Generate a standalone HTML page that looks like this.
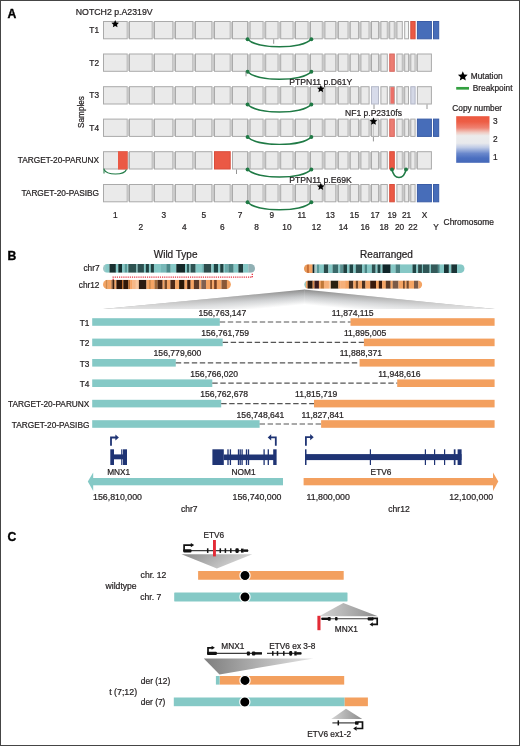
<!DOCTYPE html>
<html><head><meta charset="utf-8"><style>
html,body{margin:0;padding:0;background:#fff;}
body{width:520px;height:746px;overflow:hidden;position:relative;}
svg{display:block;will-change:transform;}
.frame{position:absolute;left:0;top:0;width:518px;height:744px;border:1px solid #454545;}
</style></head><body>
<svg width="520" height="746" viewBox="0 0 520 746" font-family="Liberation Sans, sans-serif">
<text x="7.5" y="18" font-size="12.2" text-anchor="start" font-weight="bold" fill="#000" stroke="#000" stroke-width="0.35" >A</text>
<rect x="103.5" y="21.5" width="23.7" height="17.3" fill="#eaeaea" stroke="#aaaaaa" stroke-width="1"/>
<rect x="127.5" y="21.8" width="1.7" height="16.7" fill="#c9c9c9"/>
<rect x="129.5" y="21.5" width="22.7" height="17.3" fill="#eaeaea" stroke="#aaaaaa" stroke-width="1"/>
<rect x="152.5" y="21.8" width="1.7" height="16.7" fill="#c9c9c9"/>
<rect x="154.5" y="21.5" width="18.4" height="17.3" fill="#eaeaea" stroke="#aaaaaa" stroke-width="1"/>
<rect x="173.2" y="21.8" width="2" height="16.7" fill="#c9c9c9"/>
<rect x="175.5" y="21.5" width="17.4" height="17.3" fill="#eaeaea" stroke="#aaaaaa" stroke-width="1"/>
<rect x="193.2" y="21.8" width="2" height="16.7" fill="#c9c9c9"/>
<rect x="195.5" y="21.5" width="16.4" height="17.3" fill="#eaeaea" stroke="#aaaaaa" stroke-width="1"/>
<rect x="212.2" y="21.8" width="2" height="16.7" fill="#c9c9c9"/>
<rect x="214.5" y="21.5" width="15.7" height="17.3" fill="#eaeaea" stroke="#aaaaaa" stroke-width="1"/>
<rect x="230.5" y="21.8" width="1.7" height="16.7" fill="#c9c9c9"/>
<rect x="232.5" y="21.5" width="15.0" height="17.3" fill="#eaeaea" stroke="#aaaaaa" stroke-width="1"/>
<rect x="247.8" y="21.8" width="2" height="16.7" fill="#c9c9c9"/>
<rect x="250.1" y="21.5" width="13" height="17.3" fill="#eaeaea" stroke="#aaaaaa" stroke-width="1"/>
<rect x="263.4" y="21.8" width="2" height="16.7" fill="#c9c9c9"/>
<rect x="265.7" y="21.5" width="12.4" height="17.3" fill="#eaeaea" stroke="#aaaaaa" stroke-width="1"/>
<rect x="278.4" y="21.8" width="2" height="16.7" fill="#c9c9c9"/>
<rect x="280.7" y="21.5" width="12.4" height="17.3" fill="#eaeaea" stroke="#aaaaaa" stroke-width="1"/>
<rect x="293.4" y="21.8" width="1.8" height="16.7" fill="#c9c9c9"/>
<rect x="295.5" y="21.5" width="12.6" height="17.3" fill="#eaeaea" stroke="#aaaaaa" stroke-width="1"/>
<rect x="308.4" y="21.8" width="1.8" height="16.7" fill="#c9c9c9"/>
<rect x="310.5" y="21.5" width="11.8" height="17.3" fill="#eaeaea" stroke="#aaaaaa" stroke-width="1"/>
<rect x="322.6" y="21.8" width="2" height="16.7" fill="#c9c9c9"/>
<rect x="324.9" y="21.5" width="10.9" height="17.3" fill="#eaeaea" stroke="#aaaaaa" stroke-width="1"/>
<rect x="336.1" y="21.8" width="2" height="16.7" fill="#c9c9c9"/>
<rect x="338.4" y="21.5" width="9.7" height="17.3" fill="#eaeaea" stroke="#aaaaaa" stroke-width="1"/>
<rect x="348.4" y="21.8" width="1.6" height="16.7" fill="#c9c9c9"/>
<rect x="350.3" y="21.5" width="8.2" height="17.3" fill="#eaeaea" stroke="#aaaaaa" stroke-width="1"/>
<rect x="358.8" y="21.8" width="1.8" height="16.7" fill="#c9c9c9"/>
<rect x="360.9" y="21.5" width="8.2" height="17.3" fill="#eaeaea" stroke="#aaaaaa" stroke-width="1"/>
<rect x="369.4" y="21.8" width="1.8" height="16.7" fill="#c9c9c9"/>
<rect x="371.5" y="21.5" width="7.0" height="17.3" fill="#eaeaea" stroke="#aaaaaa" stroke-width="1"/>
<rect x="378.8" y="21.8" width="1.8" height="16.7" fill="#c9c9c9"/>
<rect x="380.9" y="21.5" width="6.4" height="17.3" fill="#eaeaea" stroke="#aaaaaa" stroke-width="1"/>
<rect x="387.6" y="21.8" width="1.8" height="16.7" fill="#c9c9c9"/>
<rect x="389.7" y="21.5" width="4.6" height="17.3" fill="#eaeaea" stroke="#aaaaaa" stroke-width="1"/>
<rect x="394.6" y="21.8" width="2" height="16.7" fill="#c9c9c9"/>
<rect x="396.9" y="21.5" width="5.4" height="17.3" fill="#eaeaea" stroke="#aaaaaa" stroke-width="1"/>
<rect x="404.7" y="21.5" width="3.8" height="17.3" fill="#f4f6f6" stroke="#aaaaaa" stroke-width="1"/>
<rect x="410.8" y="21.5" width="4.3" height="17.3" fill="#eb5945" stroke="#d84e3c" stroke-width="1"/>
<rect x="417.4" y="21.5" width="14.0" height="17.3" fill="#476db9" stroke="#3a5ca6" stroke-width="1"/>
<rect x="433.5" y="21.5" width="5.2" height="17.3" fill="#476db9" stroke="#3a5ca6" stroke-width="1"/>
<text x="99" y="33.15" font-size="8.3" text-anchor="end" font-weight="normal" fill="#231f20" stroke="#231f20" stroke-width="0.22" >T1</text>
<rect x="103.5" y="54.0" width="23.7" height="17.3" fill="#eaeaea" stroke="#aaaaaa" stroke-width="1"/>
<rect x="127.5" y="54.3" width="1.7" height="16.7" fill="#c9c9c9"/>
<rect x="129.5" y="54.0" width="22.7" height="17.3" fill="#eaeaea" stroke="#aaaaaa" stroke-width="1"/>
<rect x="152.5" y="54.3" width="1.7" height="16.7" fill="#c9c9c9"/>
<rect x="154.5" y="54.0" width="18.4" height="17.3" fill="#eaeaea" stroke="#aaaaaa" stroke-width="1"/>
<rect x="173.2" y="54.3" width="2" height="16.7" fill="#c9c9c9"/>
<rect x="175.5" y="54.0" width="17.4" height="17.3" fill="#eaeaea" stroke="#aaaaaa" stroke-width="1"/>
<rect x="193.2" y="54.3" width="2" height="16.7" fill="#c9c9c9"/>
<rect x="195.5" y="54.0" width="16.4" height="17.3" fill="#eaeaea" stroke="#aaaaaa" stroke-width="1"/>
<rect x="212.2" y="54.3" width="2" height="16.7" fill="#c9c9c9"/>
<rect x="214.5" y="54.0" width="15.7" height="17.3" fill="#eaeaea" stroke="#aaaaaa" stroke-width="1"/>
<rect x="230.5" y="54.3" width="1.7" height="16.7" fill="#c9c9c9"/>
<rect x="232.5" y="54.0" width="15.0" height="17.3" fill="#eaeaea" stroke="#aaaaaa" stroke-width="1"/>
<rect x="247.8" y="54.3" width="2" height="16.7" fill="#c9c9c9"/>
<rect x="250.1" y="54.0" width="13" height="17.3" fill="#eaeaea" stroke="#aaaaaa" stroke-width="1"/>
<rect x="263.4" y="54.3" width="2" height="16.7" fill="#c9c9c9"/>
<rect x="265.7" y="54.0" width="12.4" height="17.3" fill="#eaeaea" stroke="#aaaaaa" stroke-width="1"/>
<rect x="278.4" y="54.3" width="2" height="16.7" fill="#c9c9c9"/>
<rect x="280.7" y="54.0" width="12.4" height="17.3" fill="#eaeaea" stroke="#aaaaaa" stroke-width="1"/>
<rect x="293.4" y="54.3" width="1.8" height="16.7" fill="#c9c9c9"/>
<rect x="295.5" y="54.0" width="12.6" height="17.3" fill="#eaeaea" stroke="#aaaaaa" stroke-width="1"/>
<rect x="308.4" y="54.3" width="1.8" height="16.7" fill="#c9c9c9"/>
<rect x="310.5" y="54.0" width="11.8" height="17.3" fill="#eaeaea" stroke="#aaaaaa" stroke-width="1"/>
<rect x="322.6" y="54.3" width="2" height="16.7" fill="#c9c9c9"/>
<rect x="324.9" y="54.0" width="10.9" height="17.3" fill="#eaeaea" stroke="#aaaaaa" stroke-width="1"/>
<rect x="336.1" y="54.3" width="2" height="16.7" fill="#c9c9c9"/>
<rect x="338.4" y="54.0" width="9.7" height="17.3" fill="#eaeaea" stroke="#aaaaaa" stroke-width="1"/>
<rect x="348.4" y="54.3" width="1.6" height="16.7" fill="#c9c9c9"/>
<rect x="350.3" y="54.0" width="8.2" height="17.3" fill="#eaeaea" stroke="#aaaaaa" stroke-width="1"/>
<rect x="358.8" y="54.3" width="1.8" height="16.7" fill="#c9c9c9"/>
<rect x="360.9" y="54.0" width="8.2" height="17.3" fill="#eaeaea" stroke="#aaaaaa" stroke-width="1"/>
<rect x="369.4" y="54.3" width="1.8" height="16.7" fill="#c9c9c9"/>
<rect x="371.5" y="54.0" width="7.0" height="17.3" fill="#eaeaea" stroke="#aaaaaa" stroke-width="1"/>
<rect x="378.8" y="54.3" width="1.8" height="16.7" fill="#c9c9c9"/>
<rect x="380.9" y="54.0" width="6.4" height="17.3" fill="#eaeaea" stroke="#aaaaaa" stroke-width="1"/>
<rect x="389.7" y="54.0" width="4.6" height="17.3" fill="#ec7c72" stroke="#d86a62" stroke-width="1"/>
<rect x="396.9" y="54.0" width="5.4" height="17.3" fill="#eaeaea" stroke="#aaaaaa" stroke-width="1"/>
<rect x="402.6" y="54.3" width="1.8" height="16.7" fill="#c9c9c9"/>
<rect x="404.7" y="54.0" width="3.8" height="17.3" fill="#eaeaea" stroke="#aaaaaa" stroke-width="1"/>
<rect x="408.8" y="54.3" width="1.7" height="16.7" fill="#c9c9c9"/>
<rect x="410.8" y="54.0" width="4.3" height="17.3" fill="#eaeaea" stroke="#aaaaaa" stroke-width="1"/>
<rect x="415.4" y="54.3" width="1.7" height="16.7" fill="#c9c9c9"/>
<rect x="417.4" y="54.0" width="14.0" height="17.3" fill="#eaeaea" stroke="#aaaaaa" stroke-width="1"/>
<text x="99" y="65.65" font-size="8.3" text-anchor="end" font-weight="normal" fill="#231f20" stroke="#231f20" stroke-width="0.22" >T2</text>
<rect x="103.5" y="86.7" width="23.7" height="17.3" fill="#eaeaea" stroke="#aaaaaa" stroke-width="1"/>
<rect x="127.5" y="87.0" width="1.7" height="16.7" fill="#c9c9c9"/>
<rect x="129.5" y="86.7" width="22.7" height="17.3" fill="#eaeaea" stroke="#aaaaaa" stroke-width="1"/>
<rect x="152.5" y="87.0" width="1.7" height="16.7" fill="#c9c9c9"/>
<rect x="154.5" y="86.7" width="18.4" height="17.3" fill="#eaeaea" stroke="#aaaaaa" stroke-width="1"/>
<rect x="173.2" y="87.0" width="2" height="16.7" fill="#c9c9c9"/>
<rect x="175.5" y="86.7" width="17.4" height="17.3" fill="#eaeaea" stroke="#aaaaaa" stroke-width="1"/>
<rect x="193.2" y="87.0" width="2" height="16.7" fill="#c9c9c9"/>
<rect x="195.5" y="86.7" width="16.4" height="17.3" fill="#eaeaea" stroke="#aaaaaa" stroke-width="1"/>
<rect x="212.2" y="87.0" width="2" height="16.7" fill="#c9c9c9"/>
<rect x="214.5" y="86.7" width="15.7" height="17.3" fill="#eaeaea" stroke="#aaaaaa" stroke-width="1"/>
<rect x="230.5" y="87.0" width="1.7" height="16.7" fill="#c9c9c9"/>
<rect x="232.5" y="86.7" width="15.0" height="17.3" fill="#eaeaea" stroke="#aaaaaa" stroke-width="1"/>
<rect x="247.8" y="87.0" width="2" height="16.7" fill="#c9c9c9"/>
<rect x="250.1" y="86.7" width="13" height="17.3" fill="#eaeaea" stroke="#aaaaaa" stroke-width="1"/>
<rect x="263.4" y="87.0" width="2" height="16.7" fill="#c9c9c9"/>
<rect x="265.7" y="86.7" width="12.4" height="17.3" fill="#eaeaea" stroke="#aaaaaa" stroke-width="1"/>
<rect x="278.4" y="87.0" width="2" height="16.7" fill="#c9c9c9"/>
<rect x="280.7" y="86.7" width="12.4" height="17.3" fill="#eaeaea" stroke="#aaaaaa" stroke-width="1"/>
<rect x="293.4" y="87.0" width="1.8" height="16.7" fill="#c9c9c9"/>
<rect x="295.5" y="86.7" width="12.6" height="17.3" fill="#eaeaea" stroke="#aaaaaa" stroke-width="1"/>
<rect x="308.4" y="87.0" width="1.8" height="16.7" fill="#c9c9c9"/>
<rect x="310.5" y="86.7" width="11.8" height="17.3" fill="#eaeaea" stroke="#aaaaaa" stroke-width="1"/>
<rect x="322.6" y="87.0" width="2" height="16.7" fill="#c9c9c9"/>
<rect x="324.9" y="86.7" width="10.9" height="17.3" fill="#eaeaea" stroke="#aaaaaa" stroke-width="1"/>
<rect x="336.1" y="87.0" width="2" height="16.7" fill="#c9c9c9"/>
<rect x="338.4" y="86.7" width="9.7" height="17.3" fill="#eaeaea" stroke="#aaaaaa" stroke-width="1"/>
<rect x="348.4" y="87.0" width="1.6" height="16.7" fill="#c9c9c9"/>
<rect x="350.3" y="86.7" width="8.2" height="17.3" fill="#eaeaea" stroke="#aaaaaa" stroke-width="1"/>
<rect x="358.8" y="87.0" width="1.8" height="16.7" fill="#c9c9c9"/>
<rect x="360.9" y="86.7" width="8.2" height="17.3" fill="#eaeaea" stroke="#aaaaaa" stroke-width="1"/>
<rect x="371.5" y="86.7" width="7.0" height="17.3" fill="#d7dbea" stroke="#b4b8c8" stroke-width="1"/>
<rect x="380.9" y="86.7" width="6.4" height="17.3" fill="#eaeaea" stroke="#aaaaaa" stroke-width="1"/>
<rect x="389.7" y="86.7" width="4.6" height="17.3" fill="#f2a6a0" stroke="#aaaaaa" stroke-width="1"/>
<rect x="396.9" y="86.7" width="5.4" height="17.3" fill="#eaeaea" stroke="#aaaaaa" stroke-width="1"/>
<rect x="402.6" y="87.0" width="1.8" height="16.7" fill="#c9c9c9"/>
<rect x="404.7" y="86.7" width="3.8" height="17.3" fill="#eaeaea" stroke="#aaaaaa" stroke-width="1"/>
<rect x="410.8" y="86.7" width="4.3" height="17.3" fill="#d4d8e6" stroke="#b2b6c6" stroke-width="1"/>
<rect x="417.4" y="86.7" width="14.0" height="17.3" fill="#eaeaea" stroke="#aaaaaa" stroke-width="1"/>
<text x="99" y="98.35" font-size="8.3" text-anchor="end" font-weight="normal" fill="#231f20" stroke="#231f20" stroke-width="0.22" >T3</text>
<rect x="103.5" y="119.1" width="23.7" height="17.3" fill="#eaeaea" stroke="#aaaaaa" stroke-width="1"/>
<rect x="127.5" y="119.4" width="1.7" height="16.7" fill="#c9c9c9"/>
<rect x="129.5" y="119.1" width="22.7" height="17.3" fill="#eaeaea" stroke="#aaaaaa" stroke-width="1"/>
<rect x="152.5" y="119.4" width="1.7" height="16.7" fill="#c9c9c9"/>
<rect x="154.5" y="119.1" width="18.4" height="17.3" fill="#eaeaea" stroke="#aaaaaa" stroke-width="1"/>
<rect x="173.2" y="119.4" width="2" height="16.7" fill="#c9c9c9"/>
<rect x="175.5" y="119.1" width="17.4" height="17.3" fill="#eaeaea" stroke="#aaaaaa" stroke-width="1"/>
<rect x="193.2" y="119.4" width="2" height="16.7" fill="#c9c9c9"/>
<rect x="195.5" y="119.1" width="16.4" height="17.3" fill="#eaeaea" stroke="#aaaaaa" stroke-width="1"/>
<rect x="212.2" y="119.4" width="2" height="16.7" fill="#c9c9c9"/>
<rect x="214.5" y="119.1" width="15.7" height="17.3" fill="#eaeaea" stroke="#aaaaaa" stroke-width="1"/>
<rect x="230.5" y="119.4" width="1.7" height="16.7" fill="#c9c9c9"/>
<rect x="232.5" y="119.1" width="15.0" height="17.3" fill="#eaeaea" stroke="#aaaaaa" stroke-width="1"/>
<rect x="247.8" y="119.4" width="2" height="16.7" fill="#c9c9c9"/>
<rect x="250.1" y="119.1" width="13" height="17.3" fill="#eaeaea" stroke="#aaaaaa" stroke-width="1"/>
<rect x="263.4" y="119.4" width="2" height="16.7" fill="#c9c9c9"/>
<rect x="265.7" y="119.1" width="12.4" height="17.3" fill="#eaeaea" stroke="#aaaaaa" stroke-width="1"/>
<rect x="278.4" y="119.4" width="2" height="16.7" fill="#c9c9c9"/>
<rect x="280.7" y="119.1" width="12.4" height="17.3" fill="#eaeaea" stroke="#aaaaaa" stroke-width="1"/>
<rect x="293.4" y="119.4" width="1.8" height="16.7" fill="#c9c9c9"/>
<rect x="295.5" y="119.1" width="12.6" height="17.3" fill="#eaeaea" stroke="#aaaaaa" stroke-width="1"/>
<rect x="308.4" y="119.4" width="1.8" height="16.7" fill="#c9c9c9"/>
<rect x="310.5" y="119.1" width="11.8" height="17.3" fill="#eaeaea" stroke="#aaaaaa" stroke-width="1"/>
<rect x="322.6" y="119.4" width="2" height="16.7" fill="#c9c9c9"/>
<rect x="324.9" y="119.1" width="10.9" height="17.3" fill="#eaeaea" stroke="#aaaaaa" stroke-width="1"/>
<rect x="336.1" y="119.4" width="2" height="16.7" fill="#c9c9c9"/>
<rect x="338.4" y="119.1" width="9.7" height="17.3" fill="#eaeaea" stroke="#aaaaaa" stroke-width="1"/>
<rect x="348.4" y="119.4" width="1.6" height="16.7" fill="#c9c9c9"/>
<rect x="350.3" y="119.1" width="8.2" height="17.3" fill="#eaeaea" stroke="#aaaaaa" stroke-width="1"/>
<rect x="358.8" y="119.4" width="1.8" height="16.7" fill="#c9c9c9"/>
<rect x="360.9" y="119.1" width="8.2" height="17.3" fill="#eaeaea" stroke="#aaaaaa" stroke-width="1"/>
<rect x="369.4" y="119.4" width="1.8" height="16.7" fill="#c9c9c9"/>
<rect x="371.5" y="119.1" width="7.0" height="17.3" fill="#eaeaea" stroke="#aaaaaa" stroke-width="1"/>
<rect x="378.8" y="119.4" width="1.8" height="16.7" fill="#c9c9c9"/>
<rect x="380.9" y="119.1" width="6.4" height="17.3" fill="#eaeaea" stroke="#aaaaaa" stroke-width="1"/>
<rect x="389.7" y="119.1" width="4.6" height="17.3" fill="#ec7c72" stroke="#d86a62" stroke-width="1"/>
<rect x="396.9" y="119.1" width="5.4" height="17.3" fill="#eaeaea" stroke="#aaaaaa" stroke-width="1"/>
<rect x="402.6" y="119.4" width="1.8" height="16.7" fill="#c9c9c9"/>
<rect x="404.7" y="119.1" width="3.8" height="17.3" fill="#eaeaea" stroke="#aaaaaa" stroke-width="1"/>
<rect x="408.8" y="119.4" width="1.7" height="16.7" fill="#c9c9c9"/>
<rect x="410.8" y="119.1" width="4.3" height="17.3" fill="#eaeaea" stroke="#aaaaaa" stroke-width="1"/>
<rect x="417.4" y="119.1" width="14.0" height="17.3" fill="#476db9" stroke="#3a5ca6" stroke-width="1"/>
<rect x="433.5" y="119.1" width="5.2" height="17.3" fill="#476db9" stroke="#3a5ca6" stroke-width="1"/>
<text x="99" y="130.75" font-size="8.3" text-anchor="end" font-weight="normal" fill="#231f20" stroke="#231f20" stroke-width="0.22" >T4</text>
<rect x="103.5" y="151.7" width="23.7" height="17.3" fill="#eaeaea" stroke="#aaaaaa" stroke-width="1"/>
<rect x="127.5" y="152.0" width="1.7" height="16.7" fill="#c9c9c9"/>
<rect x="129.5" y="151.7" width="22.7" height="17.3" fill="#eaeaea" stroke="#aaaaaa" stroke-width="1"/>
<rect x="152.5" y="152.0" width="1.7" height="16.7" fill="#c9c9c9"/>
<rect x="154.5" y="151.7" width="18.4" height="17.3" fill="#eaeaea" stroke="#aaaaaa" stroke-width="1"/>
<rect x="173.2" y="152.0" width="2" height="16.7" fill="#c9c9c9"/>
<rect x="175.5" y="151.7" width="17.4" height="17.3" fill="#eaeaea" stroke="#aaaaaa" stroke-width="1"/>
<rect x="193.2" y="152.0" width="2" height="16.7" fill="#c9c9c9"/>
<rect x="195.5" y="151.7" width="16.4" height="17.3" fill="#eaeaea" stroke="#aaaaaa" stroke-width="1"/>
<rect x="214.5" y="151.7" width="15.7" height="17.3" fill="#eb5945" stroke="#d84e3c" stroke-width="1"/>
<rect x="232.5" y="151.7" width="15.0" height="17.3" fill="#eaeaea" stroke="#aaaaaa" stroke-width="1"/>
<rect x="247.8" y="152.0" width="2" height="16.7" fill="#c9c9c9"/>
<rect x="250.1" y="151.7" width="13" height="17.3" fill="#eaeaea" stroke="#aaaaaa" stroke-width="1"/>
<rect x="263.4" y="152.0" width="2" height="16.7" fill="#c9c9c9"/>
<rect x="265.7" y="151.7" width="12.4" height="17.3" fill="#eaeaea" stroke="#aaaaaa" stroke-width="1"/>
<rect x="278.4" y="152.0" width="2" height="16.7" fill="#c9c9c9"/>
<rect x="280.7" y="151.7" width="12.4" height="17.3" fill="#eaeaea" stroke="#aaaaaa" stroke-width="1"/>
<rect x="293.4" y="152.0" width="1.8" height="16.7" fill="#c9c9c9"/>
<rect x="295.5" y="151.7" width="12.6" height="17.3" fill="#eaeaea" stroke="#aaaaaa" stroke-width="1"/>
<rect x="308.4" y="152.0" width="1.8" height="16.7" fill="#c9c9c9"/>
<rect x="310.5" y="151.7" width="11.8" height="17.3" fill="#eaeaea" stroke="#aaaaaa" stroke-width="1"/>
<rect x="322.6" y="152.0" width="2" height="16.7" fill="#c9c9c9"/>
<rect x="324.9" y="151.7" width="10.9" height="17.3" fill="#eaeaea" stroke="#aaaaaa" stroke-width="1"/>
<rect x="336.1" y="152.0" width="2" height="16.7" fill="#c9c9c9"/>
<rect x="338.4" y="151.7" width="9.7" height="17.3" fill="#eaeaea" stroke="#aaaaaa" stroke-width="1"/>
<rect x="348.4" y="152.0" width="1.6" height="16.7" fill="#c9c9c9"/>
<rect x="350.3" y="151.7" width="8.2" height="17.3" fill="#eaeaea" stroke="#aaaaaa" stroke-width="1"/>
<rect x="358.8" y="152.0" width="1.8" height="16.7" fill="#c9c9c9"/>
<rect x="360.9" y="151.7" width="8.2" height="17.3" fill="#eaeaea" stroke="#aaaaaa" stroke-width="1"/>
<rect x="369.4" y="152.0" width="1.8" height="16.7" fill="#c9c9c9"/>
<rect x="371.5" y="151.7" width="7.0" height="17.3" fill="#eaeaea" stroke="#aaaaaa" stroke-width="1"/>
<rect x="378.8" y="152.0" width="1.8" height="16.7" fill="#c9c9c9"/>
<rect x="380.9" y="151.7" width="6.4" height="17.3" fill="#eaeaea" stroke="#aaaaaa" stroke-width="1"/>
<rect x="389.7" y="151.7" width="4.6" height="17.3" fill="#eb5945" stroke="#d84e3c" stroke-width="1"/>
<rect x="396.9" y="151.7" width="5.4" height="17.3" fill="#eaeaea" stroke="#aaaaaa" stroke-width="1"/>
<rect x="402.6" y="152.0" width="1.8" height="16.7" fill="#c9c9c9"/>
<rect x="404.7" y="151.7" width="3.8" height="17.3" fill="#eaeaea" stroke="#aaaaaa" stroke-width="1"/>
<rect x="408.8" y="152.0" width="1.7" height="16.7" fill="#c9c9c9"/>
<rect x="410.8" y="151.7" width="4.3" height="17.3" fill="#eaeaea" stroke="#aaaaaa" stroke-width="1"/>
<rect x="415.4" y="152.0" width="1.7" height="16.7" fill="#c9c9c9"/>
<rect x="417.4" y="151.7" width="14.0" height="17.3" fill="#eaeaea" stroke="#aaaaaa" stroke-width="1"/>
<text x="99" y="163.35" font-size="8.3" text-anchor="end" font-weight="normal" fill="#231f20" stroke="#231f20" stroke-width="0.22" >TARGET-20-PARUNX</text>
<rect x="103.5" y="184.5" width="23.7" height="17.3" fill="#eaeaea" stroke="#aaaaaa" stroke-width="1"/>
<rect x="127.5" y="184.8" width="1.7" height="16.7" fill="#c9c9c9"/>
<rect x="129.5" y="184.5" width="22.7" height="17.3" fill="#eaeaea" stroke="#aaaaaa" stroke-width="1"/>
<rect x="152.5" y="184.8" width="1.7" height="16.7" fill="#c9c9c9"/>
<rect x="154.5" y="184.5" width="18.4" height="17.3" fill="#eaeaea" stroke="#aaaaaa" stroke-width="1"/>
<rect x="173.2" y="184.8" width="2" height="16.7" fill="#c9c9c9"/>
<rect x="175.5" y="184.5" width="17.4" height="17.3" fill="#eaeaea" stroke="#aaaaaa" stroke-width="1"/>
<rect x="193.2" y="184.8" width="2" height="16.7" fill="#c9c9c9"/>
<rect x="195.5" y="184.5" width="16.4" height="17.3" fill="#eaeaea" stroke="#aaaaaa" stroke-width="1"/>
<rect x="212.2" y="184.8" width="2" height="16.7" fill="#c9c9c9"/>
<rect x="214.5" y="184.5" width="15.7" height="17.3" fill="#eaeaea" stroke="#aaaaaa" stroke-width="1"/>
<rect x="230.5" y="184.8" width="1.7" height="16.7" fill="#c9c9c9"/>
<rect x="232.5" y="184.5" width="15.0" height="17.3" fill="#eaeaea" stroke="#aaaaaa" stroke-width="1"/>
<rect x="247.8" y="184.8" width="2" height="16.7" fill="#c9c9c9"/>
<rect x="250.1" y="184.5" width="13" height="17.3" fill="#eaeaea" stroke="#aaaaaa" stroke-width="1"/>
<rect x="263.4" y="184.8" width="2" height="16.7" fill="#c9c9c9"/>
<rect x="265.7" y="184.5" width="12.4" height="17.3" fill="#eaeaea" stroke="#aaaaaa" stroke-width="1"/>
<rect x="278.4" y="184.8" width="2" height="16.7" fill="#c9c9c9"/>
<rect x="280.7" y="184.5" width="12.4" height="17.3" fill="#eaeaea" stroke="#aaaaaa" stroke-width="1"/>
<rect x="293.4" y="184.8" width="1.8" height="16.7" fill="#c9c9c9"/>
<rect x="295.5" y="184.5" width="12.6" height="17.3" fill="#eaeaea" stroke="#aaaaaa" stroke-width="1"/>
<rect x="308.4" y="184.8" width="1.8" height="16.7" fill="#c9c9c9"/>
<rect x="310.5" y="184.5" width="11.8" height="17.3" fill="#eaeaea" stroke="#aaaaaa" stroke-width="1"/>
<rect x="322.6" y="184.8" width="2" height="16.7" fill="#c9c9c9"/>
<rect x="324.9" y="184.5" width="10.9" height="17.3" fill="#eaeaea" stroke="#aaaaaa" stroke-width="1"/>
<rect x="336.1" y="184.8" width="2" height="16.7" fill="#c9c9c9"/>
<rect x="338.4" y="184.5" width="9.7" height="17.3" fill="#eaeaea" stroke="#aaaaaa" stroke-width="1"/>
<rect x="348.4" y="184.8" width="1.6" height="16.7" fill="#c9c9c9"/>
<rect x="350.3" y="184.5" width="8.2" height="17.3" fill="#eaeaea" stroke="#aaaaaa" stroke-width="1"/>
<rect x="358.8" y="184.8" width="1.8" height="16.7" fill="#c9c9c9"/>
<rect x="360.9" y="184.5" width="8.2" height="17.3" fill="#eaeaea" stroke="#aaaaaa" stroke-width="1"/>
<rect x="369.4" y="184.8" width="1.8" height="16.7" fill="#c9c9c9"/>
<rect x="371.5" y="184.5" width="7.0" height="17.3" fill="#eaeaea" stroke="#aaaaaa" stroke-width="1"/>
<rect x="378.8" y="184.8" width="1.8" height="16.7" fill="#c9c9c9"/>
<rect x="380.9" y="184.5" width="6.4" height="17.3" fill="#eaeaea" stroke="#aaaaaa" stroke-width="1"/>
<rect x="389.7" y="184.5" width="4.6" height="17.3" fill="#eb5945" stroke="#d84e3c" stroke-width="1"/>
<rect x="396.9" y="184.5" width="5.4" height="17.3" fill="#eaeaea" stroke="#aaaaaa" stroke-width="1"/>
<rect x="402.6" y="184.8" width="1.8" height="16.7" fill="#c9c9c9"/>
<rect x="404.7" y="184.5" width="3.8" height="17.3" fill="#eaeaea" stroke="#aaaaaa" stroke-width="1"/>
<rect x="408.8" y="184.8" width="1.7" height="16.7" fill="#c9c9c9"/>
<rect x="410.8" y="184.5" width="4.3" height="17.3" fill="#eaeaea" stroke="#aaaaaa" stroke-width="1"/>
<rect x="417.4" y="184.5" width="14.0" height="17.3" fill="#476db9" stroke="#3a5ca6" stroke-width="1"/>
<rect x="433.5" y="184.5" width="5.2" height="17.3" fill="#476db9" stroke="#3a5ca6" stroke-width="1"/>
<text x="99" y="196.15" font-size="8.3" text-anchor="end" font-weight="normal" fill="#231f20" stroke="#231f20" stroke-width="0.22" >TARGET-20-PASIBG</text>
<rect x="390.8" y="87.2" width="3.5" height="16.3" fill="#eb7068"/>
<line x1="373.4" y1="122.6" x2="373.4" y2="136.9" stroke="#bbb" stroke-width="0.8"/>
<rect x="118" y="151.2" width="9.7" height="18.3" fill="#eb5945"/>
<path d="M247.6,39.3 C257.15,49.27 301.75,49.27 311.3,39.3" fill="none" stroke="#1f7a45" stroke-width="1.45"/>
<circle cx="247.6" cy="39.3" r="2.0" fill="#1f7a45"/>
<circle cx="311.3" cy="39.3" r="2.0" fill="#1f7a45"/>
<path d="M247.6,71.8 C257.15,81.78 301.75,81.78 311.3,71.8" fill="none" stroke="#1f7a45" stroke-width="1.45"/>
<circle cx="247.6" cy="71.8" r="2.0" fill="#1f7a45"/>
<circle cx="311.3" cy="71.8" r="2.0" fill="#1f7a45"/>
<path d="M247.6,104.5 C257.15,114.47 301.75,114.47 311.3,104.5" fill="none" stroke="#1f7a45" stroke-width="1.45"/>
<circle cx="247.6" cy="104.5" r="2.0" fill="#1f7a45"/>
<circle cx="311.3" cy="104.5" r="2.0" fill="#1f7a45"/>
<path d="M247.6,136.9 C257.15,146.88 301.75,146.88 311.3,136.9" fill="none" stroke="#1f7a45" stroke-width="1.45"/>
<circle cx="247.6" cy="136.9" r="2.0" fill="#1f7a45"/>
<circle cx="311.3" cy="136.9" r="2.0" fill="#1f7a45"/>
<path d="M247.6,169.5 C257.15,179.47 301.75,179.47 311.3,169.5" fill="none" stroke="#1f7a45" stroke-width="1.45"/>
<circle cx="247.6" cy="169.5" r="2.0" fill="#1f7a45"/>
<circle cx="311.3" cy="169.5" r="2.0" fill="#1f7a45"/>
<path d="M247.6,202.3 C257.15,212.28 301.75,212.28 311.3,202.3" fill="none" stroke="#1f7a45" stroke-width="1.45"/>
<circle cx="247.6" cy="202.3" r="2.0" fill="#1f7a45"/>
<circle cx="311.3" cy="202.3" r="2.0" fill="#1f7a45"/>
<path d="M392,169.5 C394.1,180.14 403.9,180.14 406,169.5" fill="none" stroke="#1f7a45" stroke-width="1.45"/>
<circle cx="392" cy="169.5" r="2.0" fill="#1f7a45"/>
<circle cx="406" cy="169.5" r="2.0" fill="#1f7a45"/>
<path d="M104,169.5 C107,175.5 124,175.5 126.5,169.5" fill="none" stroke="#1f7a45" stroke-width="1.1"/>
<line x1="104" y1="168.5" x2="104" y2="173.5" stroke="#1f7a45" stroke-width="1"/>
<line x1="273.7" y1="39.3" x2="273.7" y2="43.8" stroke="#888" stroke-width="0.9"/>
<line x1="246" y1="71.8" x2="246" y2="76.3" stroke="#888" stroke-width="0.9"/>
<line x1="374" y1="104.5" x2="374" y2="109.0" stroke="#888" stroke-width="0.9"/>
<line x1="427" y1="104.5" x2="427" y2="109.0" stroke="#888" stroke-width="0.9"/>
<line x1="373.4" y1="136.9" x2="373.4" y2="141.4" stroke="#888" stroke-width="0.9"/>
<line x1="236.5" y1="169.5" x2="236.5" y2="174.0" stroke="#888" stroke-width="0.9"/>
<text x="75.8" y="14.9" font-size="8.75" text-anchor="start" font-weight="normal" fill="#231f20" stroke="#231f20" stroke-width="0.22" >NOTCH2 p.A2319V</text>
<polygon points="115.20,20.10 116.31,22.58 119.00,22.86 116.99,24.68 117.55,27.34 115.20,25.98 112.85,27.34 113.41,24.68 111.40,22.86 114.09,22.58" fill="#000"/>
<text x="289.2" y="84.5" font-size="8.65" text-anchor="start" font-weight="normal" fill="#231f20" stroke="#231f20" stroke-width="0.22" >PTPN11 p.D61Y</text>
<polygon points="320.80,84.90 321.91,87.38 324.60,87.66 322.59,89.48 323.15,92.14 320.80,90.78 318.45,92.14 319.01,89.48 317.00,87.66 319.69,87.38" fill="#000"/>
<text x="345" y="116.4" font-size="8.55" text-anchor="start" font-weight="normal" fill="#231f20" stroke="#231f20" stroke-width="0.22" >NF1 p.P2310fs</text>
<polygon points="373.50,117.40 374.63,119.94 377.40,120.23 375.33,122.10 375.91,124.82 373.50,123.43 371.09,124.82 371.67,122.10 369.60,120.23 372.37,119.94" fill="#000"/>
<text x="289.2" y="182.9" font-size="8.65" text-anchor="start" font-weight="normal" fill="#231f20" stroke="#231f20" stroke-width="0.22" >PTPN11 p.E69K</text>
<polygon points="320.80,182.70 321.91,185.18 324.60,185.46 322.59,187.28 323.15,189.94 320.80,188.58 318.45,189.94 319.01,187.28 317.00,185.46 319.69,185.18" fill="#000"/>
<text x="0" y="0" font-size="8.2" fill="#231f20" stroke="#231f20" stroke-width="0.22" text-anchor="middle" transform="translate(83.8,112) rotate(-90)">Samples</text>
<text x="115.35" y="218.4" font-size="8.3" text-anchor="middle" font-weight="normal" fill="#231f20" stroke="#231f20" stroke-width="0.22" >1</text>
<text x="140.85" y="229.6" font-size="8.3" text-anchor="middle" font-weight="normal" fill="#231f20" stroke="#231f20" stroke-width="0.22" >2</text>
<text x="163.7" y="218.4" font-size="8.3" text-anchor="middle" font-weight="normal" fill="#231f20" stroke="#231f20" stroke-width="0.22" >3</text>
<text x="184.2" y="229.6" font-size="8.3" text-anchor="middle" font-weight="normal" fill="#231f20" stroke="#231f20" stroke-width="0.22" >4</text>
<text x="203.7" y="218.4" font-size="8.3" text-anchor="middle" font-weight="normal" fill="#231f20" stroke="#231f20" stroke-width="0.22" >5</text>
<text x="222.35" y="229.6" font-size="8.3" text-anchor="middle" font-weight="normal" fill="#231f20" stroke="#231f20" stroke-width="0.22" >6</text>
<text x="240.0" y="218.4" font-size="8.3" text-anchor="middle" font-weight="normal" fill="#231f20" stroke="#231f20" stroke-width="0.22" >7</text>
<text x="256.6" y="229.6" font-size="8.3" text-anchor="middle" font-weight="normal" fill="#231f20" stroke="#231f20" stroke-width="0.22" >8</text>
<text x="271.9" y="218.4" font-size="8.3" text-anchor="middle" font-weight="normal" fill="#231f20" stroke="#231f20" stroke-width="0.22" >9</text>
<text x="286.9" y="229.6" font-size="8.3" text-anchor="middle" font-weight="normal" fill="#231f20" stroke="#231f20" stroke-width="0.22" >10</text>
<text x="301.8" y="218.4" font-size="8.3" text-anchor="middle" font-weight="normal" fill="#231f20" stroke="#231f20" stroke-width="0.22" >11</text>
<text x="316.4" y="229.6" font-size="8.3" text-anchor="middle" font-weight="normal" fill="#231f20" stroke="#231f20" stroke-width="0.22" >12</text>
<text x="330.35" y="218.4" font-size="8.3" text-anchor="middle" font-weight="normal" fill="#231f20" stroke="#231f20" stroke-width="0.22" >13</text>
<text x="343.25" y="229.6" font-size="8.3" text-anchor="middle" font-weight="normal" fill="#231f20" stroke="#231f20" stroke-width="0.22" >14</text>
<text x="354.4" y="218.4" font-size="8.3" text-anchor="middle" font-weight="normal" fill="#231f20" stroke="#231f20" stroke-width="0.22" >15</text>
<text x="365.0" y="229.6" font-size="8.3" text-anchor="middle" font-weight="normal" fill="#231f20" stroke="#231f20" stroke-width="0.22" >16</text>
<text x="375.0" y="218.4" font-size="8.3" text-anchor="middle" font-weight="normal" fill="#231f20" stroke="#231f20" stroke-width="0.22" >17</text>
<text x="384.1" y="229.6" font-size="8.3" text-anchor="middle" font-weight="normal" fill="#231f20" stroke="#231f20" stroke-width="0.22" >18</text>
<text x="392.0" y="218.4" font-size="8.3" text-anchor="middle" font-weight="normal" fill="#231f20" stroke="#231f20" stroke-width="0.22" >19</text>
<text x="399.6" y="229.6" font-size="8.3" text-anchor="middle" font-weight="normal" fill="#231f20" stroke="#231f20" stroke-width="0.22" >20</text>
<text x="406.6" y="218.4" font-size="8.3" text-anchor="middle" font-weight="normal" fill="#231f20" stroke="#231f20" stroke-width="0.22" >21</text>
<text x="412.95" y="229.6" font-size="8.3" text-anchor="middle" font-weight="normal" fill="#231f20" stroke="#231f20" stroke-width="0.22" >22</text>
<text x="424.4" y="218.4" font-size="8.3" text-anchor="middle" font-weight="normal" fill="#231f20" stroke="#231f20" stroke-width="0.22" >X</text>
<text x="436.1" y="229.6" font-size="8.3" text-anchor="middle" font-weight="normal" fill="#231f20" stroke="#231f20" stroke-width="0.22" >Y</text>
<text x="443.6" y="225.4" font-size="8.4" text-anchor="start" font-weight="normal" fill="#231f20" stroke="#231f20" stroke-width="0.22" >Chromosome</text>
<polygon points="462.80,71.30 464.21,74.46 467.65,74.82 465.08,77.14 465.80,80.53 462.80,78.80 459.80,80.53 460.52,77.14 457.95,74.82 461.39,74.46" fill="#000"/>
<text x="470.8" y="78.6" font-size="8.3" text-anchor="start" font-weight="normal" fill="#231f20" stroke="#231f20" stroke-width="0.22" >Mutation</text>
<line x1="456.2" y1="88.3" x2="469" y2="88.3" stroke="#33a040" stroke-width="2.7"/>
<text x="472.8" y="90.9" font-size="8.3" text-anchor="start" font-weight="normal" fill="#231f20" stroke="#231f20" stroke-width="0.22" >Breakpoint</text>
<text x="452.3" y="110.9" font-size="8.3" text-anchor="start" font-weight="normal" fill="#231f20" stroke="#231f20" stroke-width="0.22" >Copy number</text>
<defs><linearGradient id="cn" x1="0" y1="0" x2="0" y2="1"><stop offset="0" stop-color="#ec5840"/><stop offset="0.12" stop-color="#ed5d45"/><stop offset="0.25" stop-color="#ef8272"/><stop offset="0.35" stop-color="#f0cbc2"/><stop offset="0.42" stop-color="#ececec"/><stop offset="0.58" stop-color="#e8e9ec"/><stop offset="0.67" stop-color="#bfcbe6"/><stop offset="0.8" stop-color="#6a88cc"/><stop offset="0.9" stop-color="#4b6fc0"/><stop offset="1" stop-color="#4568b8"/></linearGradient></defs>
<rect x="456.2" y="116.2" width="33.3" height="46.6" fill="url(#cn)"/>
<text x="493" y="123.8" font-size="8.3" text-anchor="start" font-weight="normal" fill="#231f20" stroke="#231f20" stroke-width="0.22" >3</text>
<text x="493" y="142.2" font-size="8.3" text-anchor="start" font-weight="normal" fill="#231f20" stroke="#231f20" stroke-width="0.22" >2</text>
<text x="493" y="160" font-size="8.3" text-anchor="start" font-weight="normal" fill="#231f20" stroke="#231f20" stroke-width="0.22" >1</text>
<text x="7.5" y="260" font-size="12.2" text-anchor="start" font-weight="bold" fill="#000" stroke="#000" stroke-width="0.35" >B</text>
<text x="175.6" y="257.7" font-size="10" text-anchor="middle" font-weight="normal" fill="#231f20" stroke="#231f20" stroke-width="0.22" >Wild Type</text>
<text x="386.5" y="258" font-size="10" text-anchor="middle" font-weight="normal" fill="#231f20" stroke="#231f20" stroke-width="0.22" >Rearranged</text>
<text x="99.6" y="271" font-size="8.3" text-anchor="end" font-weight="normal" fill="#231f20" stroke="#231f20" stroke-width="0.22" >chr7</text>
<text x="99.5" y="288" font-size="8.3" text-anchor="end" font-weight="normal" fill="#231f20" stroke="#231f20" stroke-width="0.22" >chr12</text>
<defs><linearGradient id="wgl" gradientUnits="userSpaceOnUse" x1="0" y1="289.5" x2="0" y2="304.5" gradientTransform="translate(304.5,0) skewY(-5.53) translate(-304.5,0)"><stop offset="0" stop-color="#8c8c8c"/><stop offset="0.45" stop-color="#c6c8ca"/><stop offset="1" stop-color="#ffffff"/></linearGradient><linearGradient id="wgr" gradientUnits="userSpaceOnUse" x1="0" y1="289.5" x2="0" y2="304.5" gradientTransform="translate(304.5,0) skewY(5.84) translate(-304.5,0)"><stop offset="0" stop-color="#8c8c8c"/><stop offset="0.45" stop-color="#c6c8ca"/><stop offset="1" stop-color="#ffffff"/></linearGradient><linearGradient id="wfl" gradientUnits="userSpaceOnUse" x1="103" y1="0" x2="304.5" y2="0"><stop offset="0" stop-color="#fff" stop-opacity="0.8"/><stop offset="1" stop-color="#fff" stop-opacity="0"/></linearGradient><linearGradient id="wfr" gradientUnits="userSpaceOnUse" x1="304.5" y1="0" x2="495" y2="0"><stop offset="0" stop-color="#fff" stop-opacity="0"/><stop offset="1" stop-color="#fff" stop-opacity="0.8"/></linearGradient></defs>
<polygon points="304.5,289.5 103,309.0 304.8,309.0" fill="url(#wgl)"/>
<polygon points="304.2,289.5 304.2,309.0 495,309.0" fill="url(#wgr)"/>
<polygon points="304.5,289.5 103,309.0 304.8,309.0" fill="url(#wfl)"/>
<polygon points="304.2,289.5 304.2,309.0 495,309.0" fill="url(#wfr)"/>
<clipPath id="ic1"><rect x="103" y="264" width="152" height="8.8" rx="4.4" ry="4.4"/></clipPath>
<g clip-path="url(#ic1)">
<rect x="103" y="264" width="2.25" height="8.8" fill="#a0c8c8"/>
<rect x="105.1" y="264" width="4.55" height="8.8" fill="#86c8c6"/>
<rect x="109.5" y="264" width="6.45" height="8.8" fill="#1a3030"/>
<rect x="115.8" y="264" width="2.65" height="8.8" fill="#86c8c6"/>
<rect x="118.3" y="264" width="3.85" height="8.8" fill="#143030"/>
<rect x="122" y="264" width="2.65" height="8.8" fill="#86c8c6"/>
<rect x="124.5" y="264" width="2.65" height="8.8" fill="#5a9a98"/>
<rect x="127" y="264" width="1.45" height="8.8" fill="#86c8c6"/>
<rect x="128.3" y="264" width="8.25" height="8.8" fill="#2d5250"/>
<rect x="136.4" y="264" width="1.35" height="8.8" fill="#86c8c6"/>
<rect x="137.6" y="264" width="6.45" height="8.8" fill="#2d5050"/>
<rect x="143.9" y="264" width="2.05" height="8.8" fill="#86c8c6"/>
<rect x="145.8" y="264" width="3.25" height="8.8" fill="#1f4040"/>
<rect x="148.9" y="264" width="2.05" height="8.8" fill="#86c8c6"/>
<rect x="150.8" y="264" width="3.25" height="8.8" fill="#1f4040"/>
<rect x="153.9" y="264" width="7.05" height="8.8" fill="#86c8c6"/>
<rect x="160.8" y="264" width="5.65" height="8.8" fill="#78b8b8"/>
<rect x="166.3" y="264" width="4.45" height="8.8" fill="#4a8888"/>
<rect x="170.6" y="264" width="5.85" height="8.8" fill="#86c8c6"/>
<rect x="176.3" y="264" width="8.85" height="8.8" fill="#142828"/>
<rect x="185" y="264" width="2.05" height="8.8" fill="#86c8c6"/>
<rect x="186.9" y="264" width="2.65" height="8.8" fill="#2d5a58"/>
<rect x="189.4" y="264" width="1.35" height="8.8" fill="#86c8c6"/>
<rect x="190.6" y="264" width="5.15" height="8.8" fill="#2d5252"/>
<rect x="195.6" y="264" width="6.45" height="8.8" fill="#86c8c6"/>
<rect x="201.9" y="264" width="2.05" height="8.8" fill="#78b8b8"/>
<rect x="203.8" y="264" width="7.65" height="8.8" fill="#2d4c4c"/>
<rect x="211.3" y="264" width="2.65" height="8.8" fill="#86c8c6"/>
<rect x="213.8" y="264" width="4.35" height="8.8" fill="#1f4545"/>
<rect x="218" y="264" width="2.35" height="8.8" fill="#86c8c6"/>
<rect x="220.2" y="264" width="3.55" height="8.8" fill="#1f4040"/>
<rect x="223.6" y="264" width="1.55" height="8.8" fill="#86c8c6"/>
<rect x="225" y="264" width="3.55" height="8.8" fill="#6aa8a8"/>
<rect x="228.4" y="264" width="5.35" height="8.8" fill="#4a8080"/>
<rect x="233.6" y="264" width="4.95" height="8.8" fill="#86c8c6"/>
<rect x="238.4" y="264" width="4.85" height="8.8" fill="#1f3c3c"/>
<rect x="243.1" y="264" width="5.35" height="8.8" fill="#86c8c6"/>
<rect x="248.3" y="264" width="6.85" height="8.8" fill="#90b0b4"/>
</g>
<clipPath id="ic2"><rect x="103" y="279.8" width="127.9" height="9.4" rx="4.7" ry="4.7"/></clipPath>
<g clip-path="url(#ic2)">
<rect x="103" y="279.8" width="2.95" height="9.4" fill="#f4a464"/>
<rect x="105.8" y="279.8" width="1.95" height="9.4" fill="#d08848"/>
<rect x="107.6" y="279.8" width="3.95" height="9.4" fill="#f4a464"/>
<rect x="111.4" y="279.8" width="1.35" height="9.4" fill="#a06030"/>
<rect x="112.6" y="279.8" width="2.05" height="9.4" fill="#3a2010"/>
<rect x="114.5" y="279.8" width="2.05" height="9.4" fill="#f4a464"/>
<rect x="116.4" y="279.8" width="5.75" height="9.4" fill="#2a1408"/>
<rect x="122" y="279.8" width="1.45" height="9.4" fill="#c07030"/>
<rect x="123.3" y="279.8" width="5.15" height="9.4" fill="#301808"/>
<rect x="128.3" y="279.8" width="1.95" height="9.4" fill="#c07030"/>
<rect x="130.1" y="279.8" width="2.65" height="9.4" fill="#f4a464"/>
<rect x="132.6" y="279.8" width="3.35" height="9.4" fill="#f6b888"/>
<rect x="135.8" y="279.8" width="3.25" height="9.4" fill="#f8c8a0"/>
<rect x="138.9" y="279.8" width="7.65" height="9.4" fill="#2a1a10"/>
<rect x="146.4" y="279.8" width="2.65" height="9.4" fill="#f4a464"/>
<rect x="148.9" y="279.8" width="2.05" height="9.4" fill="#d08848"/>
<rect x="150.8" y="279.8" width="3.85" height="9.4" fill="#f4a464"/>
<rect x="154.5" y="279.8" width="3.25" height="9.4" fill="#a06838"/>
<rect x="157.6" y="279.8" width="5.15" height="9.4" fill="#4a2a18"/>
<rect x="162.6" y="279.8" width="2.05" height="9.4" fill="#f4a464"/>
<rect x="164.5" y="279.8" width="2.65" height="9.4" fill="#7a4a28"/>
<rect x="167" y="279.8" width="3.55" height="9.4" fill="#f4a464"/>
<rect x="170.4" y="279.8" width="4.85" height="9.4" fill="#4a2818"/>
<rect x="175.1" y="279.8" width="4.15" height="9.4" fill="#f4a464"/>
<rect x="179.1" y="279.8" width="5.55" height="9.4" fill="#2a1808"/>
<rect x="184.5" y="279.8" width="2.85" height="9.4" fill="#f4a464"/>
<rect x="187.2" y="279.8" width="3.55" height="9.4" fill="#3a1a08"/>
<rect x="190.6" y="279.8" width="3.45" height="9.4" fill="#f4a464"/>
<rect x="193.9" y="279.8" width="5.55" height="9.4" fill="#5a3a28"/>
<rect x="199.3" y="279.8" width="2.15" height="9.4" fill="#f4a464"/>
<rect x="201.3" y="279.8" width="4.85" height="9.4" fill="#806050"/>
<rect x="206" y="279.8" width="4.25" height="9.4" fill="#f4a464"/>
<rect x="210.1" y="279.8" width="2.15" height="9.4" fill="#8a5028"/>
<rect x="212.1" y="279.8" width="2.15" height="9.4" fill="#f4a464"/>
<rect x="214.1" y="279.8" width="2.85" height="9.4" fill="#7a4020"/>
<rect x="216.8" y="279.8" width="4.85" height="9.4" fill="#f4a464"/>
<rect x="221.5" y="279.8" width="5.55" height="9.4" fill="#8a5838"/>
<rect x="226.9" y="279.8" width="4.15" height="9.4" fill="#f4a464"/>
</g>
<clipPath id="ic3"><rect x="303.9" y="264.2" width="160.7" height="8.8" rx="4.4" ry="4.4"/></clipPath>
<g clip-path="url(#ic3)">
<rect x="303.9" y="264.2" width="3.25" height="8.8" fill="#e89858"/>
<rect x="307" y="264.2" width="2.05" height="8.8" fill="#c87038"/>
<rect x="308.9" y="264.2" width="3.85" height="8.8" fill="#f4a464"/>
<rect x="312.6" y="264.2" width="2.05" height="8.8" fill="#10262a"/>
<rect x="314.5" y="264.2" width="2.65" height="8.8" fill="#a8c8c8"/>
<rect x="317" y="264.2" width="2.65" height="8.8" fill="#5a9a9a"/>
<rect x="319.5" y="264.2" width="4.55" height="8.8" fill="#86c8c6"/>
<rect x="323.9" y="264.2" width="4.55" height="8.8" fill="#2a4a4a"/>
<rect x="328.3" y="264.2" width="4.45" height="8.8" fill="#86c8c6"/>
<rect x="332.6" y="264.2" width="5.85" height="8.8" fill="#3a6a6a"/>
<rect x="338.3" y="264.2" width="1.95" height="8.8" fill="#86c8c6"/>
<rect x="340.1" y="264.2" width="3.35" height="8.8" fill="#5a9090"/>
<rect x="343.3" y="264.2" width="3.85" height="8.8" fill="#1f4040"/>
<rect x="347" y="264.2" width="2.65" height="8.8" fill="#86c8c6"/>
<rect x="349.5" y="264.2" width="3.95" height="8.8" fill="#1f4545"/>
<rect x="353.3" y="264.2" width="2.65" height="8.8" fill="#86c8c6"/>
<rect x="355.8" y="264.2" width="6.35" height="8.8" fill="#2d5050"/>
<rect x="362" y="264.2" width="2.65" height="8.8" fill="#86c8c6"/>
<rect x="364.5" y="264.2" width="2.65" height="8.8" fill="#4a8686"/>
<rect x="367" y="264.2" width="5.05" height="8.8" fill="#86c8c6"/>
<rect x="371.9" y="264.2" width="3.85" height="8.8" fill="#2e5252"/>
<rect x="375.6" y="264.2" width="2.05" height="8.8" fill="#86c8c6"/>
<rect x="377.5" y="264.2" width="3.25" height="8.8" fill="#1f4545"/>
<rect x="380.6" y="264.2" width="2.05" height="8.8" fill="#86c8c6"/>
<rect x="382.5" y="264.2" width="8.25" height="8.8" fill="#10262a"/>
<rect x="390.6" y="264.2" width="5.15" height="8.8" fill="#86c8c6"/>
<rect x="395.6" y="264.2" width="4.55" height="8.8" fill="#4a8080"/>
<rect x="400" y="264.2" width="12.65" height="8.8" fill="#86c8c6"/>
<rect x="412.5" y="264.2" width="3.95" height="8.8" fill="#1f4545"/>
<rect x="416.3" y="264.2" width="1.95" height="8.8" fill="#86c8c6"/>
<rect x="418.1" y="264.2" width="3.95" height="8.8" fill="#2a4a4a"/>
<rect x="421.9" y="264.2" width="1.15" height="8.8" fill="#86c8c6"/>
<rect x="422.9" y="264.2" width="6.85" height="8.8" fill="#2e5656"/>
<rect x="429.6" y="264.2" width="1.55" height="8.8" fill="#86c8c6"/>
<rect x="431" y="264.2" width="6.95" height="8.8" fill="#345a5a"/>
<rect x="437.8" y="264.2" width="2.05" height="8.8" fill="#4a8686"/>
<rect x="439.7" y="264.2" width="4.45" height="8.8" fill="#86c8c6"/>
<rect x="444" y="264.2" width="4.95" height="8.8" fill="#1a3436"/>
<rect x="448.8" y="264.2" width="2.65" height="8.8" fill="#86c8c6"/>
<rect x="451.3" y="264.2" width="5.85" height="8.8" fill="#1a3436"/>
<rect x="457" y="264.2" width="7.75" height="8.8" fill="#86c8c6"/>
</g>
<clipPath id="ic4"><rect x="304.2" y="280.4" width="118.0" height="8.4" rx="4.2" ry="4.2"/></clipPath>
<g clip-path="url(#ic4)">
<rect x="304.2" y="280.4" width="1.75" height="8.4" fill="#86c8c6"/>
<rect x="305.8" y="280.4" width="1.95" height="8.4" fill="#f4a464"/>
<rect x="307.6" y="280.4" width="5.15" height="8.4" fill="#2a1a10"/>
<rect x="312.6" y="280.4" width="2.05" height="8.4" fill="#d8884c"/>
<rect x="314.5" y="280.4" width="4.55" height="8.4" fill="#3a1a1c"/>
<rect x="318.9" y="280.4" width="2.05" height="8.4" fill="#f4a464"/>
<rect x="320.8" y="280.4" width="3.25" height="8.4" fill="#c07838"/>
<rect x="323.9" y="280.4" width="5.15" height="8.4" fill="#f6b07a"/>
<rect x="328.9" y="280.4" width="2.05" height="8.4" fill="#f8c8a0"/>
<rect x="330.8" y="280.4" width="7.65" height="8.4" fill="#2a2010"/>
<rect x="338.3" y="280.4" width="1.95" height="8.4" fill="#f4a464"/>
<rect x="340.1" y="280.4" width="5.15" height="8.4" fill="#f6b07a"/>
<rect x="345.1" y="280.4" width="3.95" height="8.4" fill="#f4a464"/>
<rect x="348.9" y="280.4" width="4.55" height="8.4" fill="#4a3020"/>
<rect x="353.3" y="280.4" width="2.65" height="8.4" fill="#f4a464"/>
<rect x="355.8" y="280.4" width="2.65" height="8.4" fill="#7a4a28"/>
<rect x="358.3" y="280.4" width="3.85" height="8.4" fill="#f4a464"/>
<rect x="362" y="280.4" width="3.55" height="8.4" fill="#4a3020"/>
<rect x="365.4" y="280.4" width="4.95" height="8.4" fill="#f4a464"/>
<rect x="370.2" y="280.4" width="5.95" height="8.4" fill="#3a1a0c"/>
<rect x="376" y="280.4" width="2.95" height="8.4" fill="#f4a464"/>
<rect x="378.8" y="280.4" width="3.45" height="8.4" fill="#3a1a0c"/>
<rect x="382.1" y="280.4" width="3.85" height="8.4" fill="#f4a464"/>
<rect x="385.8" y="280.4" width="4.95" height="8.4" fill="#5a3a28"/>
<rect x="390.6" y="280.4" width="2.25" height="8.4" fill="#f4a464"/>
<rect x="392.7" y="280.4" width="5.85" height="8.4" fill="#7a5a48"/>
<rect x="398.4" y="280.4" width="4.75" height="8.4" fill="#f4a464"/>
<rect x="403" y="280.4" width="1.95" height="8.4" fill="#7a4a28"/>
<rect x="404.8" y="280.4" width="1.85" height="8.4" fill="#f4a464"/>
<rect x="406.5" y="280.4" width="2.45" height="8.4" fill="#7a4a28"/>
<rect x="408.8" y="280.4" width="5.35" height="8.4" fill="#f4a464"/>
<rect x="414" y="280.4" width="4.45" height="8.4" fill="#7a5a48"/>
<rect x="418.3" y="280.4" width="4.05" height="8.4" fill="#f4a464"/>
</g>
<path d="M113.2,280 L113.2,277.2 L252.3,277.2 L252.3,273.6" fill="none" stroke="#e4303f" stroke-width="1.3" stroke-dasharray="1.2,0.95"/>
<rect x="92.2" y="318.2" width="127.6" height="7.6" fill="#85c9c6"/>
<rect x="350.5" y="318.2" width="144.1" height="7.6" fill="#f3a05f"/>
<line x1="219.8" y1="322.0" x2="350.5" y2="322.0" stroke="#555" stroke-width="1.2" stroke-dasharray="5.4,2.6"/>
<text x="89.4" y="325.8" font-size="8.3" text-anchor="end" font-weight="normal" fill="#231f20" stroke="#231f20" stroke-width="0.22" >T1</text>
<text x="222.3" y="315.6" font-size="8.6" text-anchor="middle" font-weight="normal" fill="#231f20" stroke="#231f20" stroke-width="0.22" >156,763,147</text>
<text x="352.7" y="315.6" font-size="8.6" text-anchor="middle" font-weight="normal" fill="#231f20" stroke="#231f20" stroke-width="0.22" >11,874,115</text>
<rect x="92.2" y="338.6" width="130.5" height="7.6" fill="#85c9c6"/>
<rect x="363.9" y="338.6" width="130.7" height="7.6" fill="#f3a05f"/>
<line x1="222.7" y1="342.4" x2="363.9" y2="342.4" stroke="#555" stroke-width="1.2" stroke-dasharray="5.4,2.6"/>
<text x="89.4" y="346.2" font-size="8.3" text-anchor="end" font-weight="normal" fill="#231f20" stroke="#231f20" stroke-width="0.22" >T2</text>
<text x="225.2" y="336.0" font-size="8.6" text-anchor="middle" font-weight="normal" fill="#231f20" stroke="#231f20" stroke-width="0.22" >156,761,759</text>
<text x="365.1" y="336.0" font-size="8.6" text-anchor="middle" font-weight="normal" fill="#231f20" stroke="#231f20" stroke-width="0.22" >11,895,005</text>
<rect x="92.2" y="359.0" width="83.6" height="7.6" fill="#85c9c6"/>
<rect x="359.6" y="359.0" width="135.0" height="7.6" fill="#f3a05f"/>
<line x1="175.8" y1="362.8" x2="359.6" y2="362.8" stroke="#555" stroke-width="1.2" stroke-dasharray="5.4,2.6"/>
<text x="89.4" y="366.6" font-size="8.3" text-anchor="end" font-weight="normal" fill="#231f20" stroke="#231f20" stroke-width="0.22" >T3</text>
<text x="177.5" y="356.4" font-size="8.6" text-anchor="middle" font-weight="normal" fill="#231f20" stroke="#231f20" stroke-width="0.22" >156,779,600</text>
<text x="360.9" y="356.4" font-size="8.6" text-anchor="middle" font-weight="normal" fill="#231f20" stroke="#231f20" stroke-width="0.22" >11,888,371</text>
<rect x="92.2" y="379.4" width="120.1" height="7.6" fill="#85c9c6"/>
<rect x="397.2" y="379.4" width="97.4" height="7.6" fill="#f3a05f"/>
<line x1="212.3" y1="383.2" x2="397.2" y2="383.2" stroke="#555" stroke-width="1.2" stroke-dasharray="5.4,2.6"/>
<text x="89.4" y="387.0" font-size="8.3" text-anchor="end" font-weight="normal" fill="#231f20" stroke="#231f20" stroke-width="0.22" >T4</text>
<text x="214.2" y="376.8" font-size="8.6" text-anchor="middle" font-weight="normal" fill="#231f20" stroke="#231f20" stroke-width="0.22" >156,766,020</text>
<text x="399.4" y="376.8" font-size="8.6" text-anchor="middle" font-weight="normal" fill="#231f20" stroke="#231f20" stroke-width="0.22" >11,948,616</text>
<rect x="92.2" y="399.8" width="129.0" height="7.6" fill="#85c9c6"/>
<rect x="314.0" y="399.8" width="180.6" height="7.6" fill="#f3a05f"/>
<line x1="221.2" y1="403.6" x2="314.0" y2="403.6" stroke="#555" stroke-width="1.2" stroke-dasharray="5.4,2.6"/>
<text x="89.4" y="407.4" font-size="8.3" text-anchor="end" font-weight="normal" fill="#231f20" stroke="#231f20" stroke-width="0.22" >TARGET-20-PARUNX</text>
<text x="224.1" y="397.2" font-size="8.6" text-anchor="middle" font-weight="normal" fill="#231f20" stroke="#231f20" stroke-width="0.22" >156,762,678</text>
<text x="316.2" y="397.2" font-size="8.6" text-anchor="middle" font-weight="normal" fill="#231f20" stroke="#231f20" stroke-width="0.22" >11,815,719</text>
<rect x="92.2" y="420.2" width="167.4" height="7.6" fill="#85c9c6"/>
<rect x="321.1" y="420.2" width="173.5" height="7.6" fill="#f3a05f"/>
<line x1="259.6" y1="424.0" x2="321.1" y2="424.0" stroke="#555" stroke-width="1.2" stroke-dasharray="5.4,2.6"/>
<text x="89.4" y="427.8" font-size="8.3" text-anchor="end" font-weight="normal" fill="#231f20" stroke="#231f20" stroke-width="0.22" >TARGET-20-PASIBG</text>
<text x="260.5" y="417.6" font-size="8.6" text-anchor="middle" font-weight="normal" fill="#231f20" stroke="#231f20" stroke-width="0.22" >156,748,641</text>
<text x="322.7" y="417.6" font-size="8.6" text-anchor="middle" font-weight="normal" fill="#231f20" stroke="#231f20" stroke-width="0.22" >11,827,841</text>
<rect x="110.3" y="449.3" width="3.7" height="15.7" fill="#1f3474"/>
<rect x="121.2" y="449.3" width="1.2" height="15.7" fill="#1f3474"/>
<rect x="123.0" y="449.3" width="4.0" height="15.7" fill="#1f3474"/>
<rect x="114" y="454.4" width="9" height="4.9" fill="#1f3474"/>
<path d="M111.0,445.8 L111.0,437.5 L116.6,437.5" fill="none" stroke="#1f3474" stroke-width="1.8"/>
<polygon points="118.9,437.5 115.4,434.4 115.4,440.6" fill="#1f3474"/>
<text x="118.7" y="474.6" font-size="8.3" text-anchor="middle" font-weight="normal" fill="#231f20" stroke="#231f20" stroke-width="0.22" >MNX1</text>
<rect x="212.4" y="449.3" width="11.4" height="15.7" fill="#1f3474"/>
<rect x="223.8" y="454.5" width="52" height="5.6" fill="#1f3474"/>
<rect x="227.35" y="449.3" width="1.3" height="15.7" fill="#1f3474"/>
<rect x="229.75" y="449.3" width="1.3" height="15.7" fill="#1f3474"/>
<rect x="237.85" y="449.3" width="1.3" height="15.7" fill="#1f3474"/>
<rect x="239.55" y="449.3" width="1.3" height="15.7" fill="#1f3474"/>
<rect x="241.45" y="449.3" width="1.3" height="15.7" fill="#1f3474"/>
<rect x="245.85" y="449.3" width="1.3" height="15.7" fill="#1f3474"/>
<rect x="247.85" y="449.3" width="1.3" height="15.7" fill="#1f3474"/>
<rect x="263.45" y="449.3" width="1.3" height="15.7" fill="#1f3474"/>
<rect x="267.65" y="449.3" width="1.3" height="15.7" fill="#1f3474"/>
<rect x="273.2" y="449.3" width="3.4" height="15.7" fill="#1f3474"/>
<path d="M275.8,445.8 L275.8,437.4 L270.0,437.4" fill="none" stroke="#1f3474" stroke-width="1.8"/>
<polygon points="267.7,437.4 271.2,434.3 271.2,440.5" fill="#1f3474"/>
<text x="243.6" y="474.6" font-size="8.3" text-anchor="middle" font-weight="normal" fill="#231f20" stroke="#231f20" stroke-width="0.22" >NOM1</text>
<rect x="305.2" y="454.1" width="156.3" height="6.0" fill="#1f3474"/>
<rect x="305.0" y="449.3" width="1.5" height="15.7" fill="#1f3474"/>
<rect x="369.8" y="449.3" width="1.2" height="15.7" fill="#1f3474"/>
<rect x="424.8" y="449.3" width="1.2" height="15.7" fill="#1f3474"/>
<rect x="434.0" y="449.3" width="1.2" height="15.7" fill="#1f3474"/>
<rect x="444.0" y="449.3" width="1.2" height="15.7" fill="#1f3474"/>
<rect x="453.8" y="449.3" width="1.7" height="15.7" fill="#1f3474"/>
<rect x="457.6" y="449.3" width="4.0" height="15.7" fill="#1f3474"/>
<path d="M305.9,445.8 L305.9,437.2 L311.4,437.2" fill="none" stroke="#1f3474" stroke-width="1.8"/>
<polygon points="313.7,437.2 310.2,434.1 310.2,440.3" fill="#1f3474"/>
<text x="381" y="474.6" font-size="8.3" text-anchor="middle" font-weight="normal" fill="#231f20" stroke="#231f20" stroke-width="0.22" >ETV6</text>
<rect x="92.5" y="478" width="190.5" height="7.3" fill="#85c9c6"/>
<polygon points="87.8,481.6 93.2,472.4 93.2,490.9" fill="#85c9c6"/>
<rect x="303.6" y="478" width="190" height="7.3" fill="#f3a05f"/>
<polygon points="498.3,481.6 493,472.4 493,490.9" fill="#f3a05f"/>
<text x="117.5" y="500.3" font-size="8.8" text-anchor="middle" font-weight="normal" fill="#231f20" stroke="#231f20" stroke-width="0.22" >156,810,000</text>
<text x="257" y="500.3" font-size="8.8" text-anchor="middle" font-weight="normal" fill="#231f20" stroke="#231f20" stroke-width="0.22" >156,740,000</text>
<text x="328.2" y="500.3" font-size="8.8" text-anchor="middle" font-weight="normal" fill="#231f20" stroke="#231f20" stroke-width="0.22" >11,800,000</text>
<text x="471.2" y="500.3" font-size="8.8" text-anchor="middle" font-weight="normal" fill="#231f20" stroke="#231f20" stroke-width="0.22" >12,100,000</text>
<text x="189.3" y="511.5" font-size="8.5" text-anchor="middle" font-weight="normal" fill="#231f20" stroke="#231f20" stroke-width="0.22" >chr7</text>
<text x="399" y="511.5" font-size="8.6" text-anchor="middle" font-weight="normal" fill="#231f20" stroke="#231f20" stroke-width="0.22" >chr12</text>
<text x="7.5" y="541.2" font-size="12.2" text-anchor="start" font-weight="bold" fill="#000" stroke="#000" stroke-width="0.35" >C</text>
<defs><linearGradient id="cw1" x1="0" y1="0" x2="1" y2="0.3"><stop offset="0" stop-color="#8a8a8a"/><stop offset="1" stop-color="#d8d8d8"/></linearGradient><linearGradient id="cw2" x1="0" y1="0" x2="1" y2="0"><stop offset="0" stop-color="#7e7e7e"/><stop offset="1" stop-color="#e4e4e4"/></linearGradient><linearGradient id="cw3" x1="0" y1="0" x2="1" y2="0"><stop offset="0" stop-color="#d4d4d4"/><stop offset="1" stop-color="#8c8c8c"/></linearGradient></defs>
<polygon points="181.5,554.2 252.3,554.2 216.9,568.4" fill="url(#cw1)"/>
<text x="213.8" y="538.2" font-size="8.3" text-anchor="middle" font-weight="normal" fill="#231f20" stroke="#231f20" stroke-width="0.22" >ETV6</text>
<line x1="190" y1="550.6" x2="248.4" y2="550.6" stroke="#3c3c3c" stroke-width="1.1"/>
<path d="M184.1,551.5 L184.1,545.1 L191.4,545.1" fill="none" stroke="#111" stroke-width="1.7"/>
<polygon points="194.2,545.1 190.8,542.9 190.8,547.3" fill="#111"/>
<rect x="183.3" y="549.2" width="8.2" height="3.3" rx="1" fill="#111"/>
<rect x="206.95" y="548.3" width="1.5" height="4.6" fill="#111"/>
<rect x="219.55" y="548.3" width="1.5" height="4.6" fill="#111"/>
<rect x="224.65" y="548.3" width="1.5" height="4.6" fill="#111"/>
<rect x="230.05" y="548.3" width="1.5" height="4.6" fill="#111"/>
<rect x="235.4" y="548.3" width="3.4" height="4.6" rx="1.1" fill="#111"/>
<rect x="241.0" y="548.6" width="2.6" height="4.0" fill="#111"/>
<rect x="243.4" y="549.4" width="4.6" height="2.4" fill="#111"/>
<rect x="213.0" y="540.0" width="2.9" height="16.4" fill="#e32b36"/>
<rect x="198.1" y="571.1" width="145.6" height="8.7" rx="0.4" fill="#f3a05f"/>
<rect x="174.2" y="592.6" width="173.3" height="8.8" rx="0.4" fill="#85c9c6"/>
<circle cx="245" cy="575.5" r="5.1" fill="#000" stroke="#fff" stroke-width="1.2"/>
<circle cx="245" cy="597" r="5.1" fill="#000" stroke="#fff" stroke-width="1.2"/>
<text x="166.4" y="578.3" font-size="8.6" text-anchor="end" font-weight="normal" fill="#231f20" stroke="#231f20" stroke-width="0.22" >chr. 12</text>
<text x="161.3" y="599.6" font-size="8.6" text-anchor="end" font-weight="normal" fill="#231f20" stroke="#231f20" stroke-width="0.22" >chr. 7</text>
<text x="105.6" y="589.2" font-size="8.6" text-anchor="start" font-weight="normal" fill="#231f20" stroke="#231f20" stroke-width="0.22" >wildtype</text>
<polygon points="343.3,603 319.2,616.2 377.9,616.2" fill="url(#cw3)"/>
<line x1="321" y1="618.8" x2="368" y2="618.8" stroke="#3c3c3c" stroke-width="1.1"/>
<rect x="321.6" y="617.6" width="6.6" height="2.4" fill="#111"/>
<rect x="327.8" y="616.9" width="2.9" height="3.8" rx="0.8" fill="#111"/>
<rect x="335.0" y="617.1" width="2.6" height="3.4" rx="0.8" fill="#111"/>
<rect x="367.6" y="617.3" width="6" height="3.1" rx="0.8" fill="#111"/>
<path d="M372,618.3 L377.2,618.3 L377.2,624.4 L372.2,624.4" fill="none" stroke="#111" stroke-width="1.7"/>
<polygon points="369.5,624.4 372.8,622.2 372.8,626.6" fill="#111"/>
<rect x="317.4" y="615.8" width="3.1" height="14.4" fill="#e32b36"/>
<text x="346.3" y="632.2" font-size="8.3" text-anchor="middle" font-weight="normal" fill="#231f20" stroke="#231f20" stroke-width="0.22" >MNX1</text>
<text x="232.8" y="648.8" font-size="8.3" text-anchor="middle" font-weight="normal" fill="#231f20" stroke="#231f20" stroke-width="0.22" >MNX1</text>
<text x="292.3" y="648.8" font-size="8.3" text-anchor="middle" font-weight="normal" fill="#231f20" stroke="#231f20" stroke-width="0.22" >ETV6 ex 3-8</text>
<polygon points="203.8,658.4 313.5,658.4 219.5,674.5" fill="url(#cw2)"/>
<line x1="216" y1="653.4" x2="262" y2="653.4" stroke="#3c3c3c" stroke-width="1.1"/>
<line x1="267" y1="653.4" x2="301.5" y2="653.4" stroke="#3c3c3c" stroke-width="1.1"/>
<path d="M208,654.4 L208,647.8 L212.2,647.8" fill="none" stroke="#111" stroke-width="1.7"/>
<polygon points="214.9,647.8 211.6,645.8 211.6,649.8" fill="#111"/>
<rect x="207.1" y="651.8" width="9.8" height="3.3" rx="1" fill="#111"/>
<rect x="246.9" y="651.4" width="3.0" height="4.2" rx="0.8" fill="#111"/>
<rect x="251.9" y="651.4" width="3.4" height="4.2" rx="1.1" fill="#111"/>
<rect x="255" y="652.2" width="6.9" height="2.4" fill="#111"/>
<rect x="272.05" y="651.1" width="1.5" height="4.6" fill="#111"/>
<rect x="276.75" y="651.1" width="1.5" height="4.6" fill="#111"/>
<rect x="283.05" y="651.1" width="1.5" height="4.6" fill="#111"/>
<rect x="289.2" y="651.1" width="3.0" height="4.6" rx="1.1" fill="#111"/>
<rect x="294.3" y="651.3" width="2.4" height="4.2" fill="#111"/>
<rect x="296.5" y="652.2" width="4.8" height="2.4" fill="#111"/>
<rect x="219.6" y="676" width="124.6" height="8.6" fill="#f3a05f"/>
<rect x="215.9" y="676" width="3.7" height="8.6" fill="#85c9c6"/>
<circle cx="245" cy="680.4" r="5.1" fill="#000" stroke="#fff" stroke-width="1.2"/>
<rect x="173.8" y="697.5" width="170.9" height="8.7" fill="#85c9c6"/>
<rect x="344.7" y="697.5" width="23.2" height="8.7" fill="#f3a05f"/>
<circle cx="244.8" cy="702" r="5.1" fill="#000" stroke="#fff" stroke-width="1.2"/>
<text x="170.2" y="684.3" font-size="8.4" text-anchor="end" font-weight="normal" fill="#231f20" stroke="#231f20" stroke-width="0.22" >der (12)</text>
<text x="109.2" y="694.8" font-size="8.8" text-anchor="start" font-weight="normal" fill="#231f20" stroke="#231f20" stroke-width="0.22" >t (7;12)</text>
<text x="165.4" y="705.2" font-size="8.4" text-anchor="end" font-weight="normal" fill="#231f20" stroke="#231f20" stroke-width="0.22" >der (7)</text>
<polygon points="346,708.8 331.3,718.9 362.2,718.9" fill="url(#cw3)"/>
<line x1="332.4" y1="722.9" x2="356" y2="722.9" stroke="#3c3c3c" stroke-width="1.2"/>
<rect x="337.55" y="720.4" width="1.5" height="5" fill="#111"/>
<rect x="355" y="721.2" width="3.6" height="3.5" rx="0.8" fill="#111"/>
<path d="M358,722.0 L362.5,722.0 L362.5,728.5 L356.4,728.5" fill="none" stroke="#111" stroke-width="1.7"/>
<polygon points="353.2,728.5 356.6,726.3 356.6,730.7" fill="#111"/>
<text x="329.2" y="737" font-size="8.3" text-anchor="middle" font-weight="normal" fill="#231f20" stroke="#231f20" stroke-width="0.22" >ETV6 ex1-2</text>
</svg>
<div class="frame"></div>
</body></html>
